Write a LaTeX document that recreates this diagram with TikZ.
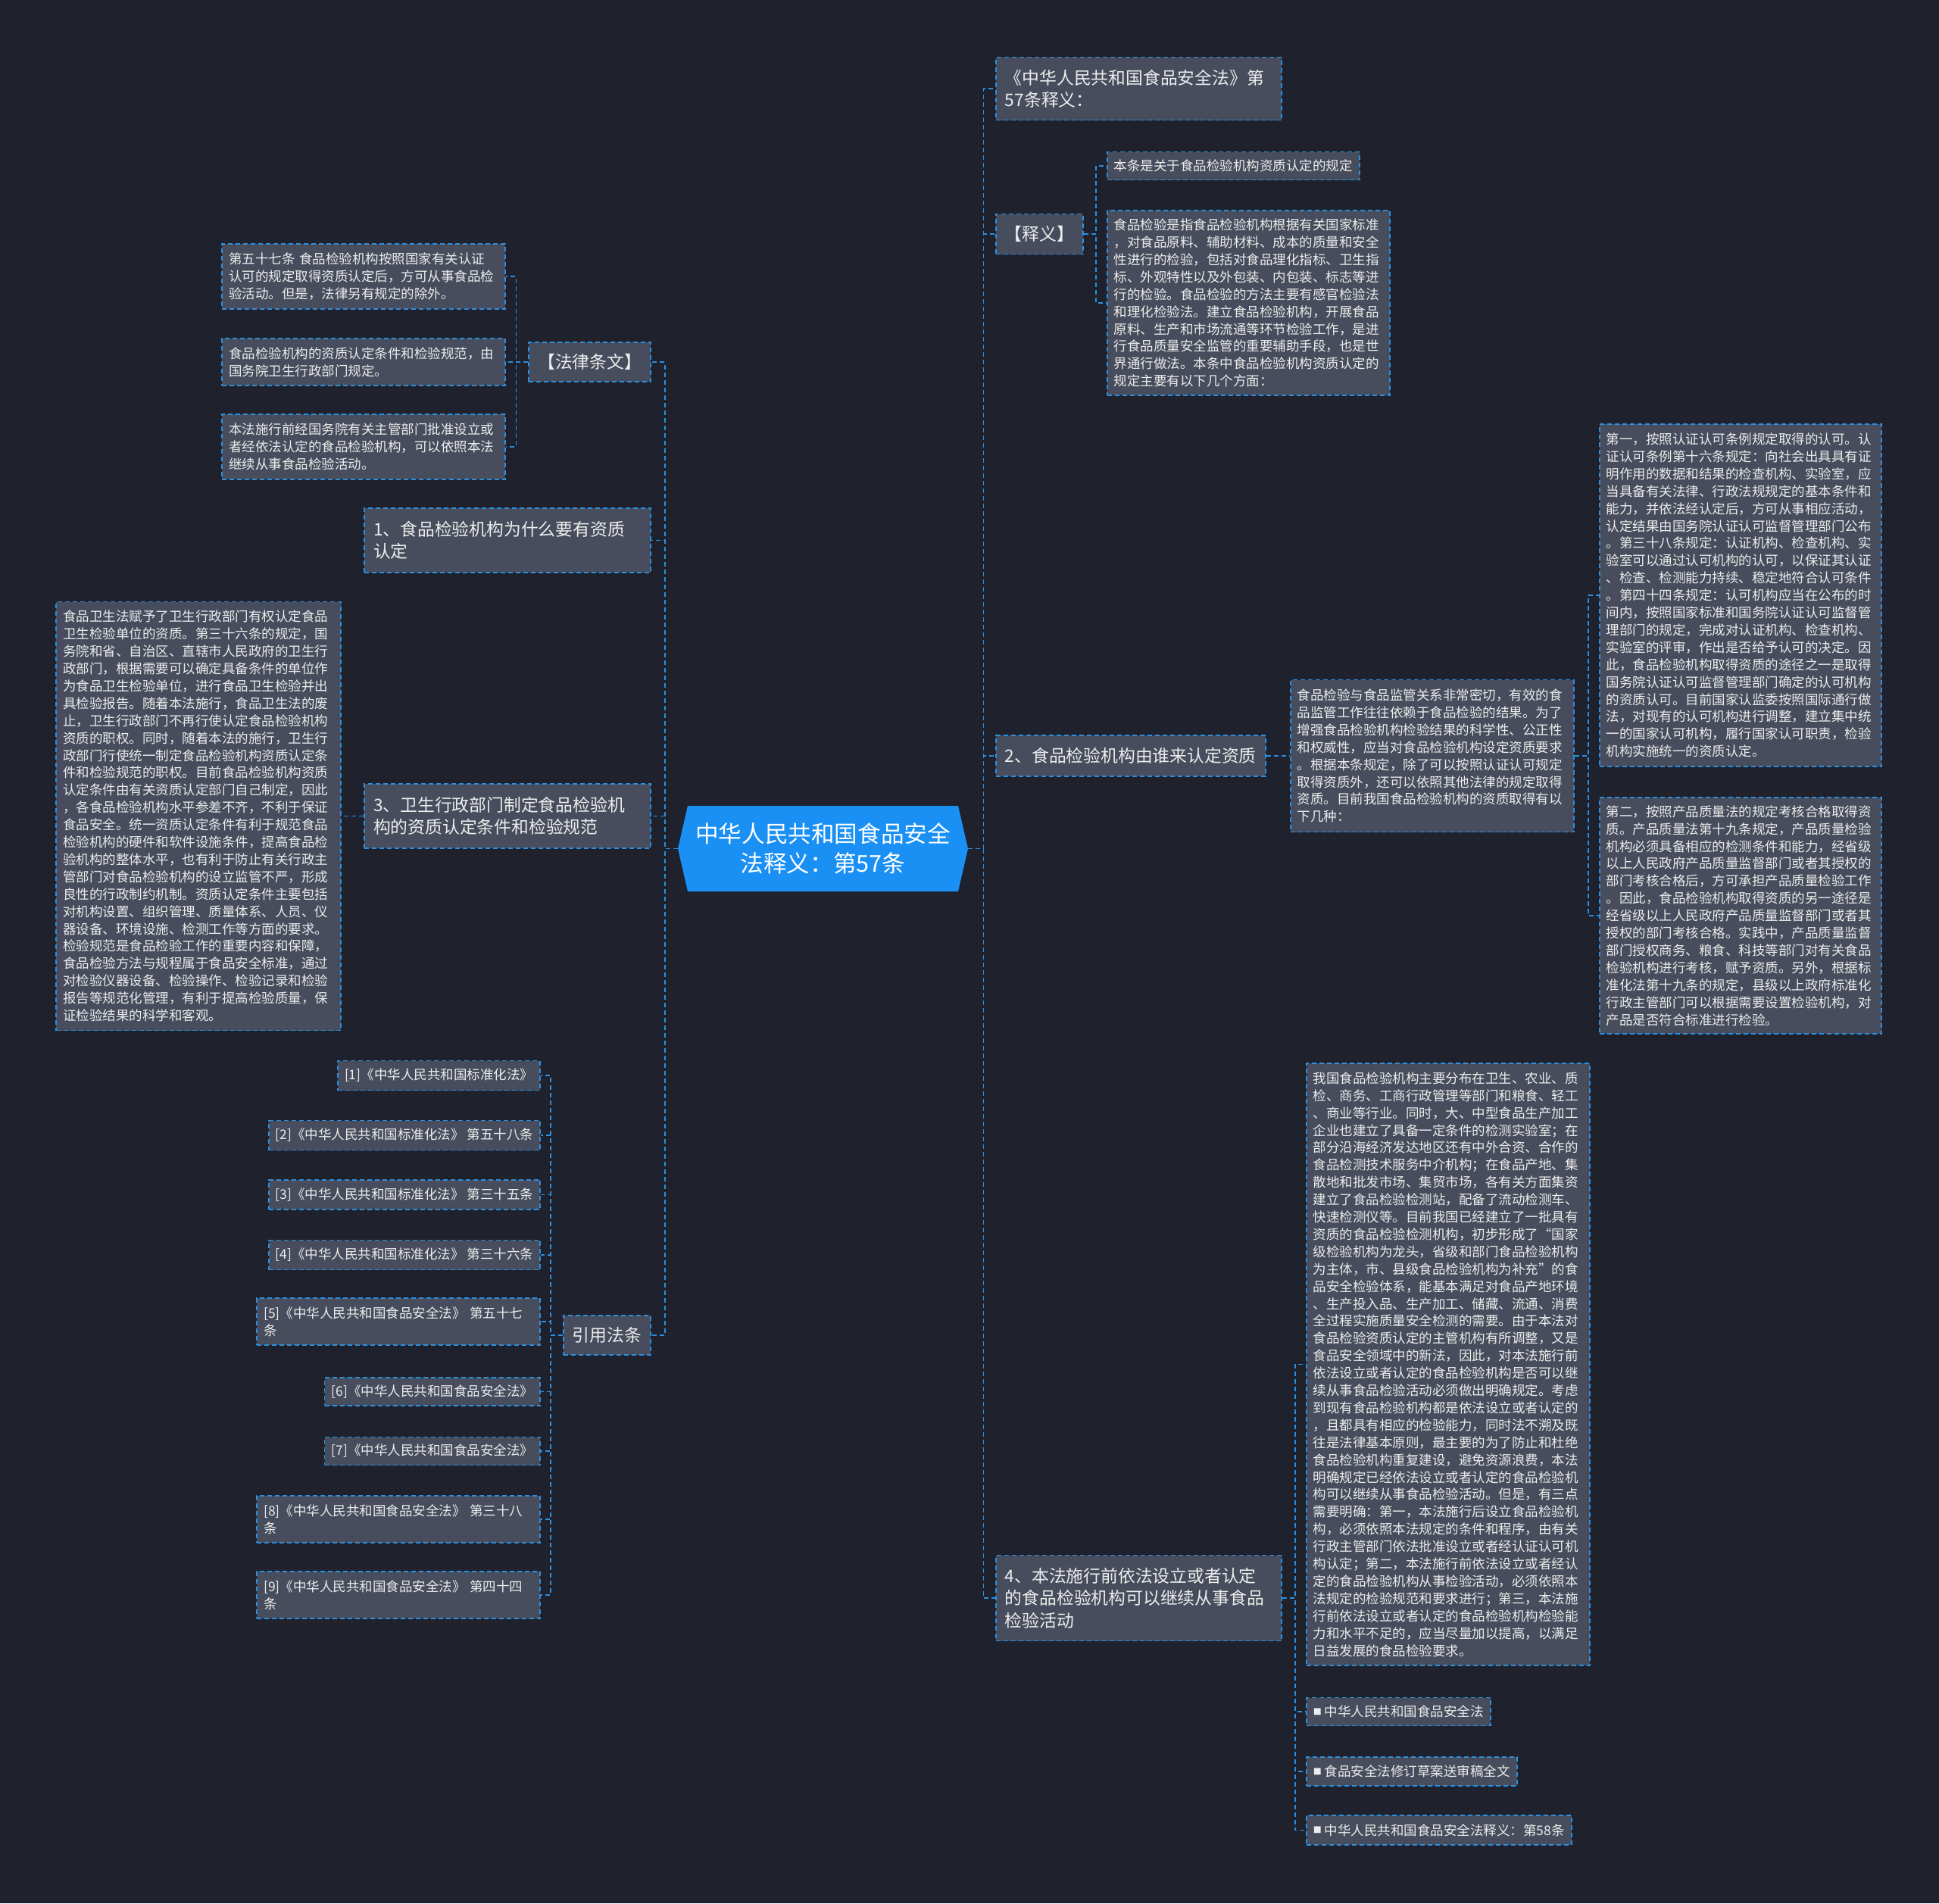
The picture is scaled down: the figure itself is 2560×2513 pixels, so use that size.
\documentclass[tikz,border=0pt]{standalone}
\usepackage{fontspec}
\setmainfont{Noto Sans CJK SC}
\definecolor{bgc}{HTML}{1F222D}
\definecolor{nf}{HTML}{474D5C}
\definecolor{lc}{HTML}{2B8FE0}
\definecolor{cf}{HTML}{1A90F5}
\definecolor{tc}{HTML}{EDEDED}
\newcommand\smallf{\fontsize{8.75pt}{11.45pt}\selectfont}
\newcommand\medf{\fontsize{11.4pt}{14.7pt}\selectfont}
\newcommand\bigf{\fontsize{15.3pt}{19.6pt}\selectfont}
\newcommand\sqb{\raisebox{1.2pt}{\fontsize{5.5pt}{5.5pt}\selectfont ■}\ }
\tikzset{
  box/.style={draw=lc, fill=nf, dash pattern=on 3pt off 2pt, line width=0.9pt,
    inner xsep=4.5pt, inner ysep=2pt, anchor=west, align=left, text=tc, font=\smallf},
  boxL/.style={box, anchor=east},
  mbox/.style={box, font=\medf, inner xsep=6pt},
  mboxL/.style={mbox, anchor=east},
  conn/.style={draw=lc, line width=0.9pt, dash pattern=on 3pt off 2pt},
}
\begin{document}
\begin{tikzpicture}[x=0.5pt,y=-0.5pt]
\useasboundingbox (0,0) rectangle (2560,2513);
\fill[bgc] (0,0) rectangle (2560,2513);

% center
\fill[cf] (908,1064) -- (1265,1064) -- (1278,1120.5) -- (1265,1177) -- (908,1177) -- (895,1120.5) -- cycle;
\node[font=\bigf, text=white, align=center, minimum width=191.5pt, minimum height=56.5pt, inner sep=0pt] (center) at (1086.5,1120.5) {中华人民共和国食品安全\\法释义：第57条};

% right level 1
\node[mbox, text width=176.5pt, minimum height=41.5pt] (R1) at (1314,117) {《中华人民共和国食品安全法》第\\57条释义：};
\node[mbox, minimum height=26.5pt] (R2) at (1314,309) {【释义】};
\node[mbox, minimum height=27pt] (R3) at (1314,998) {2、食品检验机构由谁来认定资质};
\node[mbox, text width=176.5pt, minimum height=56.5pt] (R4) at (1314,2110) {4、本法施行前依法设立或者认定\\的食品检验机构可以继续从事食品\\检验活动};

% right level 2/3
\node[box, minimum height=18.5pt] (R2a) at (1461,219) {本条是关于食品检验机构资质认定的规定};
\node[box, text width=177.5pt, minimum height=122pt] (R2b) at (1461,400) {食品检验是指食品检验机构根据有关国家标准\\，对食品原料、辅助材料、成本的质量和安全\\性进行的检验，包括对食品理化指标、卫生指\\标、外观特性以及外包装、内包装、标志等进\\行的检验。食品检验的方法主要有感官检验法\\和理化检验法。建立食品检验机构，开展食品\\原料、生产和市场流通等环节检验工作，是进\\行食品质量安全监管的重要辅助手段，也是世\\界通行做法。本条中食品检验机构资质认定的\\规定主要有以下几个方面：};

\node[box, text width=178pt, minimum height=100.5pt] (R3c) at (1703,998) {食品检验与食品监管关系非常密切，有效的食\\品监管工作往往依赖于食品检验的结果。为了\\增强食品检验机构检验结果的科学性、公正性\\和权威性，应当对食品检验机构设定资质要求\\。根据本条规定，除了可以按照认证认可规定\\取得资质外，还可以依照其他法律的规定取得\\资质。目前我国食品检验机构的资质取得有以\\下几种：};

\node[box, text width=177pt, minimum height=226pt] (G1) at (2111,786) {第一，按照认证认可条例规定取得的认可。认\\证认可条例第十六条规定：向社会出具具有证\\明作用的数据和结果的检查机构、实验室，应\\当具备有关法律、行政法规规定的基本条件和\\能力，并依法经认定后，方可从事相应活动，\\认定结果由国务院认证认可监督管理部门公布\\。第三十八条规定：认证机构、检查机构、实\\验室可以通过认可机构的认可，以保证其认证\\、检查、检测能力持续、稳定地符合认可条件\\。第四十四条规定：认可机构应当在公布的时\\间内，按照国家标准和国务院认证认可监督管\\理部门的规定，完成对认证机构、检查机构、\\实验室的评审，作出是否给予认可的决定。因\\此，食品检验机构取得资质的途径之一是取得\\国务院认证认可监督管理部门确定的认可机构\\的资质认可。目前国家认监委按照国际通行做\\法，对现有的认可机构进行调整，建立集中统\\一的国家认可机构，履行国家认可职责，检验\\机构实施统一的资质认定。};

\node[box, text width=177pt, minimum height=156pt] (G2) at (2111,1209) {第二，按照产品质量法的规定考核合格取得资\\质。产品质量法第十九条规定，产品质量检验\\机构必须具备相应的检测条件和能力，经省级\\以上人民政府产品质量监督部门或者其授权的\\部门考核合格后，方可承担产品质量检验工作\\。因此，食品检验机构取得资质的另一途径是\\经省级以上人民政府产品质量监督部门或者其\\授权的部门考核合格。实践中，产品质量监督\\部门授权商务、粮食、科技等部门对有关食品\\检验机构进行考核，赋予资质。另外，根据标\\准化法第十九条的规定，县级以上政府标准化\\行政主管部门可以根据需要设置检验机构，对\\产品是否符合标准进行检验。};

\node[box, text width=178pt, minimum height=397.5pt] (R4a) at (1724,1801.5) {我国食品检验机构主要分布在卫生、农业、质\\检、商务、工商行政管理等部门和粮食、轻工\\、商业等行业。同时，大、中型食品生产加工\\企业也建立了具备一定条件的检测实验室；在\\部分沿海经济发达地区还有中外合资、合作的\\食品检测技术服务中介机构；在食品产地、集\\散地和批发市场、集贸市场，各有关方面集资\\建立了食品检验检测站，配备了流动检测车、\\快速检测仪等。目前我国已经建立了一批具有\\资质的食品检验检测机构，初步形成了“国家\\级检验机构为龙头，省级和部门食品检验机构\\为主体，市、县级食品检验机构为补充”的食\\品安全检验体系，能基本满足对食品产地环境\\、生产投入品、生产加工、储藏、流通、消费\\全过程实施质量安全检测的需要。由于本法对\\食品检验资质认定的主管机构有所调整，又是\\食品安全领域中的新法，因此，对本法施行前\\依法设立或者认定的食品检验机构是否可以继\\续从事食品检验活动必须做出明确规定。考虑\\到现有食品检验机构都是依法设立或者认定的\\，且都具有相应的检验能力，同时法不溯及既\\往是法律基本原则，最主要的为了防止和杜绝\\食品检验机构重复建设，避免资源浪费，本法\\明确规定已经依法设立或者认定的食品检验机\\构可以继续从事食品检验活动。但是，有三点\\需要明确：第一，本法施行后设立食品检验机\\构，必须依照本法规定的条件和程序，由有关\\行政主管部门依法批准设立或者经认证认可机\\构认定；第二，本法施行前依法设立或者经认\\定的食品检验机构从事检验活动，必须依照本\\法规定的检验规范和要求进行；第三，本法施\\行前依法设立或者认定的食品检验机构检验能\\力和水平不足的，应当尽量加以提高，以满足\\日益发展的食品检验要求。};

\node[box, minimum height=18.5pt] (K1) at (1724,2260) {\sqb 中华人民共和国食品安全法};
\node[box, minimum height=19pt] (K2) at (1724,2339) {\sqb 食品安全法修订草案送审稿全文};
\node[box, minimum height=19.5pt] (K3) at (1724,2416.5) {\sqb 中华人民共和国食品安全法释义：第58条};

% left level 1
\node[mboxL, minimum height=26pt] (La) at (860,478) {【法律条文】};
\node[mboxL, text width=177pt, minimum height=42.5pt] (Lb) at (860,713.5) {1、食品检验机构为什么要有资质\\认定};
\node[mboxL, text width=177pt, minimum height=42.5pt] (Lc) at (860,1077.5) {3、卫生行政部门制定食品检验机\\构的资质认定条件和检验规范};
\node[mboxL, minimum height=26pt] (Ld) at (860,1763) {引用法条};

% left level 2
\node[boxL, text width=178pt, minimum height=43pt] (Ta) at (668,365) {第五十七条~食品检验机构按照国家有关认证\\认可的规定取得资质认定后，方可从事食品检\\验活动。但是，法律另有规定的除外。};
\node[boxL, text width=178pt, minimum height=31pt] (Tb) at (668,478) {食品检验机构的资质认定条件和检验规范，由\\国务院卫生行政部门规定。};
\node[boxL, text width=178pt, minimum height=43pt] (Tc) at (668,590) {本法施行前经国务院有关主管部门批准设立或\\者经依法认定的食品检验机构，可以依照本法\\继续从事食品检验活动。};

\node[boxL, text width=179pt, minimum height=283pt] (Big) at (451,1077.5) {食品卫生法赋予了卫生行政部门有权认定食品\\卫生检验单位的资质。第三十六条的规定，国\\务院和省、自治区、直辖市人民政府的卫生行\\政部门，根据需要可以确定具备条件的单位作\\为食品卫生检验单位，进行食品卫生检验并出\\具检验报告。随着本法施行，食品卫生法的废\\止，卫生行政部门不再行使认定食品检验机构\\资质的职权。同时，随着本法的施行，卫生行\\政部门行使统一制定食品检验机构资质认定条\\件和检验规范的职权。目前食品检验机构资质\\认定条件由有关资质认定部门自己制定，因此\\，各食品检验机构水平参差不齐，不利于保证\\食品安全。统一资质认定条件有利于规范食品\\检验机构的硬件和软件设施条件，提高食品检\\验机构的整体水平，也有利于防止有关行政主\\管部门对食品检验机构的设立监管不严，形成\\良性的行政制约机制。资质认定条件主要包括\\对机构设置、组织管理、质量体系、人员、仪\\器设备、环境设施、检测工作等方面的要求。\\检验规范是食品检验工作的重要内容和保障，\\食品检验方法与规程属于食品安全标准，通过\\对检验仪器设备、检验操作、检验记录和检验\\报告等规范化管理，有利于提高检验质量，保\\证检验结果的科学和客观。};

\node[boxL, minimum height=19.5pt] (r1) at (714,1420) {[1]《中华人民共和国标准化法》};
\node[boxL, minimum height=19.5pt] (r2) at (714,1499) {[2]《中华人民共和国标准化法》~第五十八条};
\node[boxL, minimum height=19.5pt] (r3) at (714,1577.5) {[3]《中华人民共和国标准化法》~第三十五条};
\node[boxL, minimum height=19.5pt] (r4) at (714,1657) {[4]《中华人民共和国标准化法》~第三十六条};
\node[boxL, text width=178pt, minimum height=31pt] (r5) at (714,1745) {[5]《中华人民共和国食品安全法》~第五十七\\条};
\node[boxL, minimum height=18.5pt] (r6) at (714,1837.5) {[6]《中华人民共和国食品安全法》};
\node[boxL, minimum height=18.5pt] (r7) at (714,1916) {[7]《中华人民共和国食品安全法》};
\node[boxL, text width=178pt, minimum height=31pt] (r8) at (714,2006) {[8]《中华人民共和国食品安全法》~第三十八\\条};
\node[boxL, text width=178pt, minimum height=31pt] (r9) at (714,2106) {[9]《中华人民共和国食品安全法》~第四十四\\条};

% connectors right
\foreach \n in {R1,R2,R3,R4} \draw[conn] (center.east) -- ++(20,0) |- (\n.west);
\foreach \n in {R2a,R2b} \draw[conn] (R2.east) -- ++(16,0) |- (\n.west);
\draw[conn] (R3.east) -- (R3c.west);
\foreach \n in {G1,G2} \draw[conn] (R3c.east) -- ++(18,0) |- (\n.west);
\foreach \n in {R4a,K1,K2,K3} \draw[conn] (R4.east) -- ++(17,0) |- (\n.west);
% connectors left
\foreach \n in {La,Lb,Lc,Ld} \draw[conn] (center.west) -- ++(-17,0) |- (\n.east);
\foreach \n in {Ta,Tb,Tc} \draw[conn] (La.west) -- ++(-16,0) |- (\n.east);
\draw[conn] (Lc.west) -- (Big.east);
\foreach \n in {r1,r2,r3,r4,r5,r6,r7,r8,r9} \draw[conn] (Ld.west) -- ++(-16,0) |- (\n.east);
\end{tikzpicture}
\end{document}
